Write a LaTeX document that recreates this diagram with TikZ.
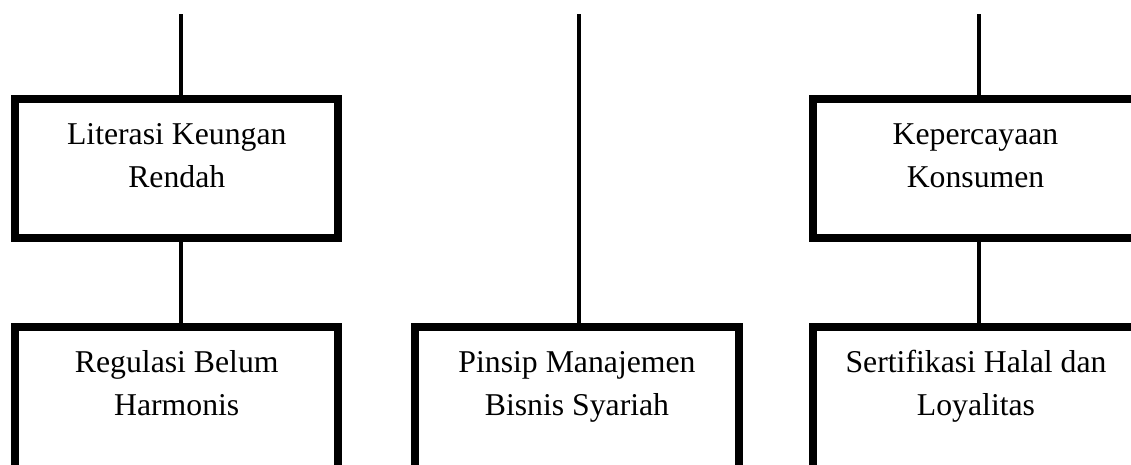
\documentclass[tikz,border=0pt]{standalone}
\usepackage{fontspec}
\setmainfont{Liberation Serif}
\usetikzlibrary{positioning}

\begin{document}
\begin{tikzpicture}[
    x=0.75pt, y=-0.75pt,
    box/.style={rectangle,draw,line width=6pt,minimum width=242.6pt,minimum height=104.6pt,inner sep=0pt},
    txt/.style={align=center,anchor=base,inner sep=0pt,font=\fontsize{23.8}{32.25}\selectfont},
    line/.style={line width=3pt}
]
\useasboundingbox (0,0) rectangle (1131,464);
\clip (0,0) rectangle (1131,464);

% Top ends of the lines
\coordinate (TL) at (180.5,14);
\coordinate (TP) at (579,14);
\coordinate (TK) at (979,14);

% Upper boxes
\node[box] (L) at (176.75,168.25) {};
\node[box] (K) at (974.75,168.25) {};

% Lower boxes (cut at the bottom)
\node[box,minimum height=120pt] (R) at (176.75,406.5) {};
\node[box,minimum height=120pt] (P) at (577,406.5) {};
\node[box,minimum height=120pt] (S) at (974.75,406.5) {};

% Texts (base = last line)
\node[txt] (tL) at (176.75,187) {Literasi Keungan\\Rendah};
\node[txt] (tK) at (975.5,187) {Kepercayaan\\Konsumen};
\node[txt] (tR) at (176.75,415) {Regulasi Belum\\Harmonis};
\node[txt] (tP) at (577,415) {Pinsip Manajemen\\Bisnis Syariah};
\node[txt] (tS) at (976,415) {Sertifikasi Halal dan\\Loyalitas};

% Lines
\draw[line] (TL) -- (TL |- L.north);
\draw[line] (TL |- L.south) -- (TL |- R.north);
\draw[line] (TP) -- (TP |- P.north);
\draw[line] (TK) -- (TK |- K.north);
\draw[line] (TK |- K.south) -- (TK |- S.north);

\end{tikzpicture}
\end{document}
